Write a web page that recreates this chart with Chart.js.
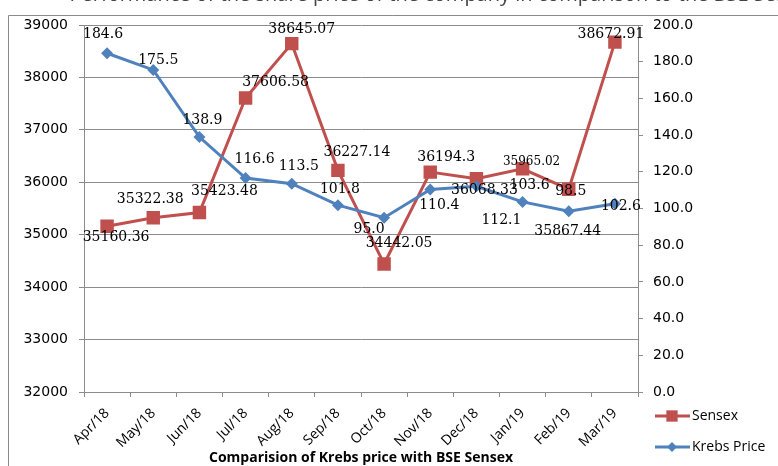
<!DOCTYPE html>
<html>
<head>
<meta charset="utf-8">
<script src="https://cdn.jsdelivr.net/npm/chart.js@4"></script>
<style>
  body { margin: 0; background: #fff; }
  canvas { display: block; }
</style>
</head>
<body>
<canvas id="chart" width="778" height="466"></canvas>
<script>
// data
const months = ["Apr/18", "May/18", "Jun/18", "Jul/18", "Aug/18", "Sep/18", "Oct/18", "Nov/18", "Dec/18", "Jan/19", "Feb/19", "Mar/19"];
const sensex = [35160.36, 35322.38, 35423.48, 37606.58, 38645.07, 36227.14, 34442.05, 36194.3, 36068.33, 36256.69, 35867.44, 38672.91];
const krebs = [184.6, 175.5, 138.9, 116.6, 113.5, 101.8, 95.0, 110.4, 112.1, 103.6, 98.5, 102.6];
const sensexText = ["35160.36", "35322.38", "35423.48", "37606.58", "38645.07", "36227.14", "34442.05", "36194.3", "36068.33", "35965.02", "35867.44", "38672.91"];
const krebsText = ["184.6", "175.5", "138.9", "116.6", "113.5", "101.8", "95.0", "110.4", "112.1", "103.6", "98.5", "102.6"];

const RED = "#C0504D";
const BLUE = "#4F81BD";
const GRID = "#8c8c8c";

// where each data label sits relative to its point
const sensexOffsets = [[9, 11], [-3, -18], [25, -21], [30, -16], [10, -14], [19, -18], [15, -21], [16, -15], [8, 12], [9, -7], [-1, 42], [-4, -8]];
const krebsOffsets = [[-4, -19], [5, -10], [3, -17], [9, -19], [7, -17], [2, -16], [-15, 12], [9, 16], [25, 34], [7, -17], [2, -20], [6, 3]];

const frameAndText = {
  id: "frameAndText",
  beforeDraw(chart) {
    const ctx = chart.ctx;
    ctx.save();
    // cut-off heading at the very top
    ctx.font = "20px 'Open Sans'";
    ctx.fillStyle = "#444";
    ctx.textBaseline = "alphabetic";
    ctx.textAlign = "left";
    const head = "Performance of the share price of the company in comparison to the BSE Sensex";
    const x0 = 500 - ctx.measureText("Performance of the share price of the compan").width;
    ctx.fillText(head, x0, 0.5);
    // outer frame
    ctx.strokeStyle = "#8a8a8a";
    ctx.lineWidth = 1;
    ctx.beginPath();
    ctx.moveTo(8.5, 466);
    ctx.lineTo(8.5, 15.5);
    ctx.lineTo(778, 15.5);
    ctx.stroke();
    ctx.restore();
  },
  afterDraw(chart) {
    const ctx = chart.ctx;
    const area = chart.chartArea;
    ctx.save();
    // data labels
    ctx.fillStyle = "#000";
    ctx.textAlign = "center";
    ctx.textBaseline = "middle";
    const draw = (dsIndex, texts, offsets) => {
      chart.getDatasetMeta(dsIndex).data.forEach((pt, i) => {
        ctx.font = (dsIndex === 1 && i === 9) ? "12px 'DejaVu Serif'" : "14px 'DejaVu Serif'";
        ctx.fillText(texts[i], pt.x + offsets[i][0], pt.y + offsets[i][1]);
      });
    };
    draw(1, sensexText, sensexOffsets);
    draw(0, krebsText, krebsOffsets);

    // bottom title
    ctx.font = "bold 14px 'Open Sans'";
    ctx.fillText("Comparision of Krebs price with BSE Sensex", (area.left + area.right) / 2, 458);

    // legend
    const items = [["Sensex", RED, "rect", 416], ["Krebs Price", BLUE, "rectRot", 447]];
    items.forEach(([label, color, style, y]) => {
      ctx.strokeStyle = color;
      ctx.lineWidth = 3;
      ctx.beginPath();
      ctx.moveTo(655, y);
      ctx.lineTo(690, y);
      ctx.stroke();
      ctx.fillStyle = color;
      Chart.helpers.drawPoint(ctx, { pointStyle: style, radius: style === "rect" ? 8 : 5, borderWidth: 0 }, 672, y);
      ctx.fillStyle = "#000";
      ctx.textAlign = "left";
      ctx.font = "14px 'Open Sans'";
      ctx.fillText(label, 692, y);
    });
    ctx.restore();
  }
};

new Chart(document.getElementById("chart"), {
  type: "line",
  data: {
    labels: months,
    datasets: [
      {
        label: "Krebs Price",
        data: krebs,
        yAxisID: "y1",
        borderColor: BLUE,
        backgroundColor: BLUE,
        borderWidth: 3,
        pointStyle: "rectRot",
        pointRadius: 6,
        pointBorderWidth: 0,
        tension: 0,
      },
      {
        label: "Sensex",
        data: sensex,
        yAxisID: "y",
        borderColor: RED,
        backgroundColor: RED,
        borderWidth: 3,
        pointStyle: "rect",
        pointRadius: 9.5,
        pointBorderWidth: 0,
        tension: 0,
      },
    ],
  },
  options: {
    responsive: false,
    animation: false,
    layout: { padding: { top: 25, left: 0, right: 0, bottom: 0 } },
    plugins: {
      legend: { display: false },
      tooltip: { enabled: false },
    },
    scales: {
      x: {
        offset: true,
        grid: { offset: true, drawOnChartArea: false, tickLength: 5, color: GRID },
        border: { color: GRID },
        ticks: {
          maxRotation: 45,
          minRotation: 45,
          color: "#000",
          font: { family: "Open Sans", size: 14 },
          padding: 8,
        },
        afterFit: (s) => { s.height = 74; },
      },
      y: {
        position: "left",
        min: 32000,
        max: 39000,
        ticks: {
          stepSize: 1000,
          color: "#000",
          font: { family: "DejaVu Sans", size: 14 },
          padding: 11,
          callback: (v) => String(v),
        },
        grid: { color: GRID, tickLength: 5 },
        border: { color: GRID },
        afterFit: (s) => { s.width = 84; },
      },
      y1: {
        position: "right",
        min: 0,
        max: 200,
        ticks: {
          stepSize: 20,
          color: "#000",
          font: { family: "DejaVu Sans", size: 14 },
          padding: 10,
          callback: (v) => v.toFixed(1),
        },
        grid: { drawOnChartArea: false, color: GRID, tickLength: 5 },
        border: { color: GRID },
        afterFit: (s) => { s.width = 140; },
      },
    },
  },
  plugins: [frameAndText],
});
</script>
</body>
</html>
